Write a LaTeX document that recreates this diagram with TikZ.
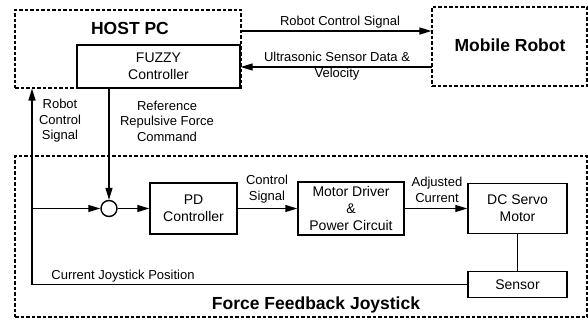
\documentclass[tikz,border=0pt]{standalone}
\usepackage{fontspec}
\setmainfont{Liberation Sans}
\usetikzlibrary{arrows.meta,calc}
\begin{document}
\begin{tikzpicture}[x=1pt,y=-1pt,
  frame/.style={draw, line width=1.1pt, dash pattern=on 3.5pt off 2pt},
  block/.style={draw, line width=1.4pt, align=center, inner sep=0pt,
    font=\fontsize{14}{17}\selectfont},
  lbl/.style={align=center, inner sep=0pt, font=\fontsize{13}{15.5}\selectfont},
  title/.style={inner sep=0pt, font=\fontsize{17.5}{20}\selectfont\bfseries},
  wire/.style={line width=1.2pt},
  arr/.style={wire, -{Triangle[length=12pt,width=7pt]}}]
\useasboundingbox (0,0) rectangle (588,321);

% dashed groups
\node[frame, minimum width=226pt, minimum height=78pt, inner sep=0pt] (host) at (128,49) {};
\node[frame, minimum width=155pt, minimum height=79pt, inner sep=0pt] (robot) at (509.5,46.5) {};
\node[frame, minimum width=572pt, minimum height=161pt, inner sep=0pt] (joy) at (301,236.5) {};

\node[title] (hosttitle) at (130,28) {HOST PC};
\node[title] (robottitle) at (510,45) {Mobile Robot};
\node[title] (joytitle) at (316,305) {Force Feedback Joystick};

% blocks
\node[block, minimum width=163pt, minimum height=43pt] (fuzzy) at (158.5,66.5) {FUZZY\\Controller};
\node[block, minimum width=87pt, minimum height=51pt] (pd) at (193.5,208.5) {PD\\Controller};
\node[block, minimum width=106pt, minimum height=53pt] (driver) at (351,208.5) {Motor Driver\\\&\\Power Circuit};
\node[block, minimum width=99pt, minimum height=50pt] (servo) at (517.5,208.5) {DC Servo\\Motor};
\node[block, minimum width=99pt, minimum height=26pt] (sensor) at (517.5,284.5) {Sensor};
\node[draw, line width=1.4pt, circle, minimum size=16pt, inner sep=0pt] (sum) at (109,208.5) {};

% connection points
\coordinate (up1) at (240,31);
\coordinate (dn1) at (432,67);
\coordinate (fb) at (32,284.5);
\coordinate (br) at (32,208.5);

% links between host and robot
\draw[arr] (up1) -- (robot.west |- up1);
\draw[arr] (dn1) -- (fuzzy.east |- dn1);
\node[lbl] (l1) at (340,22) {Robot Control Signal};
\node[lbl] (l2) at (337,66) {Ultrasonic Sensor Data \&\\Velocity};

% joystick loop
\draw[arr] (fuzzy.south -| sum) -- (sum.north);
\draw[arr] (sum.east) -- (pd.west);
\draw[arr] (pd.east) -- (driver.west);
\draw[arr] (driver.east) -- (servo.west);
\draw[wire] (servo.south -| sensor.north) -- (sensor.north);
\draw[arr] (sensor.west) -- (fb) -- (fb |- host.south);
\draw[arr] (br) -- (sum.west);

\node[lbl] (l3) at (60,121) {Robot\\Control\\Signal};
\node[lbl] (l4) at (167,121) {Reference\\Repulsive Force\\Command};
\node[lbl] (l5) at (267,189) {Control\\Signal};
\node[lbl] (l6) at (437,190) {Adjusted\\Current};
\node[lbl] (l7) at (123,276) {Current Joystick Position};
\end{tikzpicture}
\end{document}
